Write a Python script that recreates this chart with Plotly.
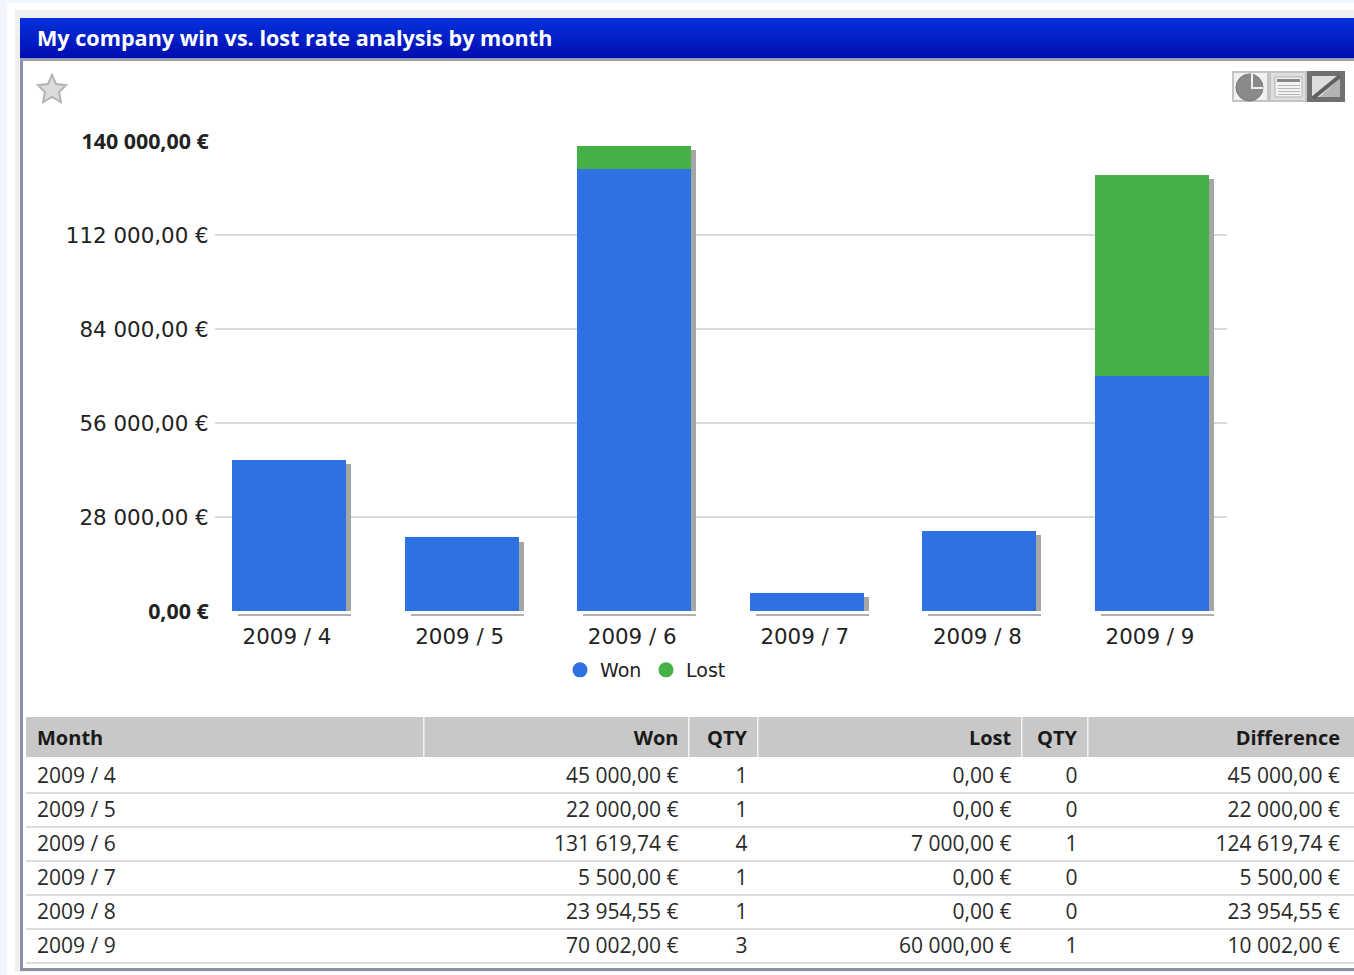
import plotly.graph_objects as go

TITLE = "My company win vs. lost rate analysis by month"
months = ["2009 / 4", "2009 / 5", "2009 / 6", "2009 / 7", "2009 / 8", "2009 / 9"]
won = [45000.00, 22000.00, 131619.74, 5500.00, 23954.55, 70002.00]
lost = [0.00, 0.00, 7000.00, 0.00, 0.00, 60000.00]
won_qty = [1, 1, 4, 1, 1, 3]
lost_qty = [0, 0, 1, 0, 0, 1]
difference = [45000.00, 22000.00, 124619.74, 5500.00, 23954.55, 10002.00]
y_ticks = [0, 28000, 56000, 84000, 112000, 140000]
grid_vals = [28000, 56000, 84000, 112000]
BOLD = "<span style=\"font-family:'Open Sans';font-weight:bold;font-size:21.4px\">%s</span>"
y_labels = [BOLD % "0,00 €", "28 000,00 €", "56 000,00 €", "84 000,00 €", "112 000,00 €", BOLD % "140 000,00 €"]
BLUE, GREEN, SHADOW = "#2e72e2", "#45b045", "#a6a6a6"

W, H = 1354, 975
def fx(p): return p / W
def fy(p): return 1 - p / H
def eur(v): return f"{v:,.2f}".replace(",", " ").replace(".", ",") + " €"

L, R, T, B = 215, 1227, 125, 625
STEP = 172.6; X0 = 289
PXY = 94 / 28000; Y0 = 611
xr = [(L - X0) / STEP, (R - X0) / STEP]
yr = [(Y0 - B) / PXY, (Y0 - T) / PXY]
bw = 114 / STEP
sw = 5 / STEP
total = [a + b for a, b in zip(won, lost)]
xs = list(range(6))

fig = go.Figure()
common = dict(x=xs, hoverinfo="skip", showlegend=False)
fig.add_bar(y=[t - 1300 for t in total], width=sw, offset=bw / 2, marker=dict(color=SHADOW, line_width=0), **common)
fig.add_bar(y=[-2 / PXY] * 6, base=[-3 / PXY] * 6, width=bw - 1 / STEP, offset=-bw / 2 + 6 / STEP, marker=dict(color="#b0b0b0", line_width=0), **common)
fig.add_bar(y=won, name="Won", width=bw, marker=dict(color=BLUE, line_width=0), x=xs, showlegend=False)
fig.add_bar(y=lost, base=won, name="Lost", width=bw, marker=dict(color=GREEN, line_width=0), x=xs, showlegend=False)
for n, c in (("Won", BLUE), ("Lost", GREEN)):
    fig.add_scatter(x=[None], y=[None], mode="markers", name=n, marker=dict(color=c, size=15, symbol="circle"))

cols = ["Month", "Won", "QTY", "Lost", "QTY", "Difference"]
edges = [26, 423.5, 688.5, 757.5, 1021.5, 1087.5, 1354]
t_edges = [29, 421.5, 686.5, 755.5, 1019.5, 1085.5, 1348]
tfont = "Open Sans"
cells = [months, [eur(v) for v in won], won_qty, [eur(v) for v in lost], lost_qty, [eur(v) for v in difference]]
aligns = ["left", "right", "right", "right", "right", "right"]
fig.add_table(
    domain=dict(x=[fx(t_edges[0]), fx(t_edges[-1])], y=[fy(965), fy(716)]),
    columnwidth=[t_edges[i + 1] - t_edges[i] for i in range(6)],
    header=dict(values=[f"<b>{c}</b>" for c in cols], height=41, fill_color="rgba(0,0,0,0)",
                line=dict(width=0, color="#c8c8c8"), align=aligns,
                font=dict(family=tfont, size=20, color="#1a1a1a")),
    cells=dict(values=cells, height=34, fill_color="rgba(0,0,0,0)",
               line=dict(width=0, color="white"), align=aligns,
               font=dict(family=tfont, size=21, color="#2a2a2a")),
)

shapes = []
def rect(x0, y0, x1, y1, fill, layer="below", line=None, width=0):
    shapes.append(dict(type="rect", xref="paper", yref="paper", x0=fx(x0), x1=fx(x1), y0=fy(y0), y1=fy(y1),
                       fillcolor=fill, line=dict(width=width, color=line or fill), layer=layer))

rect(0, 0, 1354, 975, "#f1f6fc")
rect(7, 3, 1354, 975, "#ffffff")
rect(15, 10, 1354, 972, "#efefef")
rect(20, 58, 1354, 971, "#8b90a8")
rect(23, 60, 1354, 968, "#ffffff")
n = 40
for i in range(n):
    t = i / (n - 1)
    r = round(6 * (1 - t))
    g = round(48 * (1 - t) + 14 * t)
    b = round(222 * (1 - t) + 176 * t)
    rect(20, 18 + i, 1354, 19 + i, f"rgb({r},{g},{b})")
rect(20, 58, 1354, 61, "#9a9db8")
pts = [(52, 75), (56, 84), (66, 85), (59, 92), (61, 102), (52, 97), (43, 102), (45, 92), (38, 85), (48, 84)]
shapes.append(dict(type="path", xref="paper", yref="paper", layer="below",
                   path="M " + " L ".join(f"{fx(a)},{fy(b)}" for a, b in pts) + " Z",
                   fillcolor="#dcdcdc", line=dict(color="#b4b4b4", width=2)))
rect(1232, 71, 1345, 102, "#c4c4c4")
rect(1234, 73, 1267, 100, "#f0f0f0")
rect(1271, 73, 1305, 100, "#dedede")
rect(1307, 71, 1345, 102, "#707070")
shapes.append(dict(type="circle", xref="paper", yref="paper", layer="below", x0=fx(1236), x1=fx(1263), y0=fy(74), y1=fy(101),
                   fillcolor="#8a8a8a", line=dict(color="#777777", width=1)))
rect(1251, 74, 1253, 88, "#eeeeee")
rect(1251, 87, 1263, 89, "#eeeeee")
rect(1275, 77, 1302, 97, "#f2f2f2", line="#b0b0b0", width=1)
rect(1277, 79, 1300, 82, "#888888")
for yy in (85, 88, 91, 94):
    rect(1278, yy, 1300, yy + 1, "#b8b8b8")
rect(1312, 76, 1340, 97, "#dddddd")
tri = [(1340, 78), (1340, 97), (1320, 97)]
shapes.append(dict(type="path", xref="paper", yref="paper", layer="below",
                   path="M " + " L ".join(f"{fx(a)},{fy(b)}" for a, b in tri) + " Z",
                   fillcolor="#b4b4b4", line=dict(width=0)))
shapes.append(dict(type="line", xref="paper", yref="paper", layer="below", x0=fx(1313), x1=fx(1340), y0=fy(98), y1=fy(76),
                   line=dict(color="#606060", width=4)))
for v in grid_vals:
    shapes.append(dict(type="line", xref="x", yref="y", layer="below", x0=xr[0], x1=xr[1], y0=v, y1=v,
                       line=dict(color="#b4b4b4", width=1)))
rect(edges[0], 717, 1354, 757, "#c8c8c8")
for yy in (792, 826, 860, 894, 928, 962):
    rect(26, yy, 1354, yy + 2, "#dcdcdc", layer="below")
for xx in edges[1:-1]:
    rect(xx - 0.5, 717, xx + 1, 757, "#f2f2f2", layer="below")

axfont = dict(family="DejaVu Sans", size=21.4, color="#222222")
fig.update_layout(
    width=W, height=H, autosize=False, margin=dict(l=0, r=0, t=0, b=0),
    paper_bgcolor="white", plot_bgcolor="rgba(0,0,0,0)", barmode="overlay", bargap=0,
    shapes=shapes,
    xaxis=dict(domain=[fx(L), fx(R)], range=xr, type="linear", tickmode="array",
               tickvals=xs, ticktext=months, showgrid=False, zeroline=False, showline=False,
               ticks="", tickfont=axfont, ticklabelstandoff=-3, ticklabelshift=-2),
    yaxis=dict(domain=[fy(B), fy(T)], range=yr, tickmode="array", tickvals=y_ticks, ticktext=y_labels,
               showgrid=False, zeroline=False, showline=False,
               ticks="outside", ticklen=1, tickcolor="rgba(0,0,0,0)", tickfont=axfont),
    legend=dict(orientation="h", x=fx(560), y=fy(651), xanchor="left", yanchor="top", bgcolor="rgba(0,0,0,0)",
                font=dict(family="DejaVu Sans", size=19, color="#222222"), entrywidth=41, entrywidthmode="pixels"),
    annotations=[dict(text=f"<b>{TITLE}</b>", xref="paper", yref="paper", x=fx(35), y=fy(38), xanchor="left",
                      yanchor="middle", showarrow=False, font=dict(family="Open Sans", size=21.6, color="white"))],
)
fig.write_html("out.html", config={"displayModeBar": False},
               post_script="document.body.style.margin='0';document.body.style.overflow='hidden';")
